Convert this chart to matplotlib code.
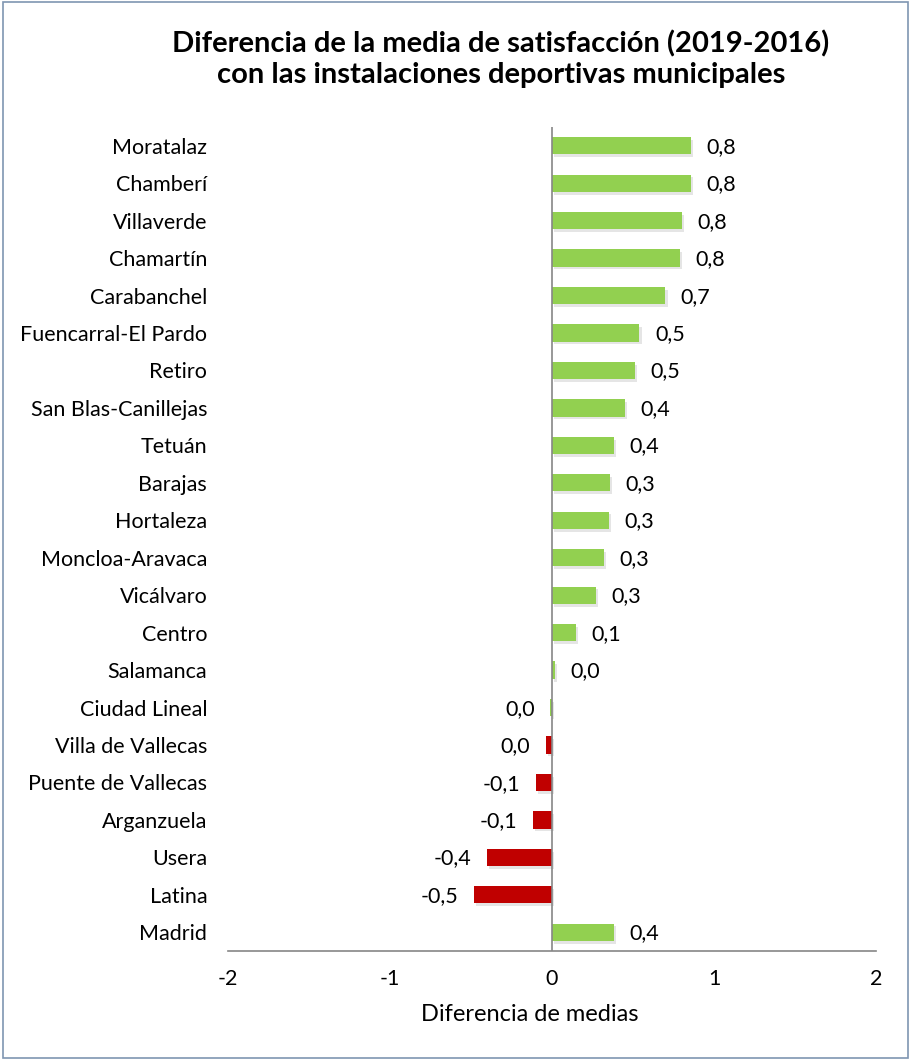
import matplotlib
matplotlib.use("Agg")
import matplotlib.pyplot as plt
import matplotlib.patheffects as pe
from matplotlib.patches import Rectangle

districts = ["Moratalaz", "Chamberí", "Villaverde", "Chamartín", "Carabanchel",
             "Fuencarral-El Pardo", "Retiro", "San Blas-Canillejas", "Tetuán",
             "Barajas", "Hortaleza", "Moncloa-Aravaca", "Vicálvaro", "Centro",
             "Salamanca", "Ciudad Lineal", "Villa de Vallecas", "Puente de Vallecas",
             "Arganzuela", "Usera", "Latina", "Madrid"]
values = [0.86, 0.86, 0.80, 0.79, 0.70, 0.54, 0.51, 0.45, 0.38, 0.36, 0.35,
          0.32, 0.27, 0.15, 0.02, -0.01, -0.04, -0.10, -0.12, -0.40, -0.48, 0.38]
labels = ["0,8", "0,8", "0,8", "0,8", "0,7", "0,5", "0,5", "0,4", "0,4", "0,3",
          "0,3", "0,3", "0,3", "0,1", "0,0", "0,0", "0,0", "-0,1", "-0,1", "-0,4",
          "-0,5", "0,4"]

GREEN = "#92D050"
RED = "#C00000"
colors = [RED if v < -0.03 else GREEN for v in values]

plt.rcParams['font.family'] = ['Lato', 'DejaVu Sans']

fig = plt.figure(figsize=(9.11, 10.6), dpi=100)
fig.patches.append(Rectangle((0.003, 0.002), 0.994, 0.996, transform=fig.transFigure,
                             fill=False, edgecolor="#7F96B2", linewidth=1.2))
ax = fig.add_axes([0.2503, 0.1028, 0.7113, 0.7774])

y = list(range(len(districts)))
bars = ax.barh(y, values, height=0.46, color=colors, zorder=2)
for b in bars:
    b.set_path_effects([pe.SimplePatchShadow(offset=(1.5, -2), shadow_rgbFace="#999999", alpha=0.25),
                        pe.Normal()])

for yi, v, lab in zip(y, values, labels):
    if v >= 0:
        ax.text(v + 0.095, yi + 0.03, lab, va="center", ha="left", fontsize=15.5)
    else:
        ax.text(v - 0.095, yi + 0.03, lab, va="center", ha="right", fontsize=15.5)

ax.set_xlim(-2, 2)
ax.set_ylim(21.5, -0.5)
ax.set_yticks(y)
ax.set_yticklabels(districts, fontsize=15.5)
ax.set_xticks([-2, -1, 0, 1, 2])
ax.set_xticklabels(["-2", "-1", "0", "1", "2"], fontsize=15.5)
ax.tick_params(axis="both", length=0)
ax.tick_params(axis="y", pad=15)
ax.tick_params(axis="x", pad=13)
ax.axvline(0, color="#868686", linewidth=1.2, zorder=3)
for s in ["left", "right", "top"]:
    ax.spines[s].set_visible(False)
ax.spines["bottom"].set_color("#868686")
ax.spines["bottom"].set_linewidth(1.2)
ax.set_xlabel("Diferencia de medias", fontsize=17, labelpad=8)
ax.xaxis.set_label_coords(0.466, -0.064)

fig.text(0.55, 0.944, "Diferencia de la media de satisfacción (2019-2016)\ncon las instalaciones deportivas municipales",
         ha="center", va="center", fontsize=21, fontweight="bold", linespacing=1.2)

fig.savefig("out.png", dpi=100)
plt.close()
